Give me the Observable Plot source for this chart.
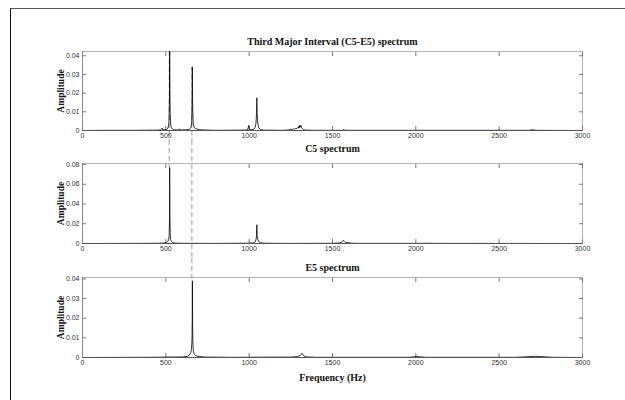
<!DOCTYPE html>
<html><head><meta charset="utf-8">
<script src="https://cdn.jsdelivr.net/npm/d3@7"></script>
<script src="https://cdn.jsdelivr.net/npm/@observablehq/plot@0.6"></script>
<style>
body{margin:0;background:#fff;}
#fig{position:relative;width:625px;height:400px;overflow:hidden;background:#fff;}
#border{position:absolute;left:10px;top:8px;width:700px;height:500px;border-top:1px solid #5a5a5a;border-left:1.5px solid #111;}
.panel{position:absolute;left:0;}
</style></head><body><div id="fig"><div id="border"></div></div>
<script>
// ---------- data ----------
const xTicks = [0, 500, 1000, 1500, 2000, 2500, 3000];
const titles = ["Third Major Interval (C5-E5) spectrum", "C5 spectrum", "E5 spectrum"];
const xLabel = "Frequency (Hz)";
const yLabel = "Amplitude";

const mixFreq = [0,100,300,450,470,478,482,505,512,517,520,522,523,524.5,526,529,533,540,550,575,582,586,610,640,650,655,657,659,661,664,670,680,700,720,800,950,990,998,1003,1025,1035,1041,1044,1046,1048,1052,1058,1068,1085,1200,1240,1250,1258,1265,1272,1280,1286,1291,1295,1299,1302,1305,1308,1311,1315,1320,1328,1340,1400,1560,1568,1575,2000,2680,2700,2720,3000];
const mixAmp  = [0,0.0001,0.0001,0.0002,0.0004,0.0013,0.0003,0.0006,0.0012,0.0028,0.007,0.02,0.046,0.022,0.009,0.0035,0.0015,0.0008,0.0004,0.0003,0.0009,0.0003,0.0003,0.0006,0.0014,0.004,0.011,0.034,0.012,0.004,0.0016,0.0009,0.0005,0.0003,0.0001,0.0002,0.0003,0.0028,0.0003,0.0005,0.0015,0.004,0.009,0.0175,0.009,0.0035,0.0014,0.0006,0.0002,0.0001,0.0003,0.0006,0.0005,0.0009,0.0007,0.0012,0.001,0.0016,0.0013,0.0024,0.0015,0.0029,0.0018,0.0026,0.0014,0.0009,0.0004,0.0002,0.0001,0.0001,0.0005,0.0001,0.0001,0.0001,0.0004,0.0001,0];

const c5Freq = [0,300,470,495,505,512,517,520,522,523,524.5,526,529,534,542,555,600,800,1000,1025,1035,1041,1044,1046,1048,1052,1058,1068,1090,1200,1500,1545,1555,1562,1566,1570,1576,1585,1600,1615,1650,2000,2090,2100,3000];
const c5Amp  = [0,0.0001,0.0003,0.0006,0.0012,0.002,0.004,0.008,0.025,0.077,0.028,0.01,0.004,0.002,0.0009,0.0004,0.0002,0.0001,0.0003,0.0006,0.0015,0.004,0.008,0.019,0.008,0.004,0.0018,0.0008,0.0003,0.0001,0.0002,0.0006,0.0015,0.0025,0.0032,0.0022,0.0012,0.0009,0.0007,0.0003,0.0001,0.0001,0.0003,0.0001,0];

const e5Freq = [0,400,600,630,642,650,654,657,658.5,659.3,660.5,662,665,670,680,700,740,900,1250,1290,1305,1313,1318,1322,1330,1345,1400,1950,1990,2005,2015,2030,2060,2600,2650,2690,2720,2750,2780,2820,3000];
const e5Amp  = [0,0.0001,0.0003,0.0006,0.0013,0.0025,0.0045,0.009,0.02,0.039,0.018,0.008,0.0035,0.0018,0.0009,0.0005,0.0002,0.0001,0.0002,0.0005,0.001,0.0016,0.0022,0.0014,0.0007,0.0003,0.0001,0.0001,0.0003,0.0006,0.0005,0.0003,0.0001,0.0001,0.0003,0.0005,0.0006,0.0005,0.0003,0.0001,0];

const yTicks1 = [0, 0.01, 0.02, 0.03, 0.04];
const yTicks2 = [0, 0.02, 0.04, 0.06, 0.08];
const yTicks3 = [0, 0.01, 0.02, 0.03, 0.04];
const yMax = [0.0423, 0.081, 0.0407];

const noteFreq = [523.25, 659.26];   // C5, E5 fundamentals (dashed guides)
const mixPeak = [0.0423, 0.034];
const c5Peak = 0.077;
const e5Peak = 0.039;

// ---------- drawing ----------
function guides(specs) {
  return (index, scales, values, dimensions) => {
    const g = d3.create("svg:g");
    for (const s of specs) {
      const x = scales.x(s.f);
      const y1 = s.top == null ? 0 : scales.y(s.top);
      const y2 = s.bottom == null ? dimensions.height : scales.y(s.bottom);
      g.append("line").attr("x1", x).attr("x2", x).attr("y1", y1).attr("y2", y2)
        .attr("stroke", "#808080").attr("stroke-width", 0.8).attr("stroke-dasharray", "5,3");
    }
    return g.node();
  };
}

function panel({title, titleDy, freq, amp, ymax, yTicks, top, height, marginTop, marginBottom, guideSpecs, withXLabel}) {
  const data = freq.map((f, i) => ({f, a: amp[i]}));
  const serif = "'Liberation Serif', 'Times New Roman', serif";
  const marks = [
    guides(guideSpecs),
    Plot.frame({stroke: "#b4b4b4"}),
    Plot.axisX({anchor: "top", ticks: xTicks, tickSize: -4, stroke: "#777", tickFormat: () => "", label: null}),
    Plot.axisY({anchor: "right", ticks: yTicks, tickSize: -4, stroke: "#777", tickFormat: () => "", label: null}),
    Plot.axisX({anchor: "bottom", ticks: xTicks, tickSize: -4, tickPadding: 7, stroke: "#777", fill: "#333", tickFormat: d => String(d), label: null}),
    Plot.axisY({anchor: "left", ticks: yTicks, tickSize: -4, tickPadding: 7, stroke: "#777", fill: "#333", tickFormat: d => String(d), label: null}),
    Plot.ruleY([0], {stroke: "#555", strokeWidth: 1}),
    Plot.ruleX([0], {stroke: "#8a8a8a", strokeWidth: 1}),
    Plot.line(data, {x: "f", y: "a", stroke: "#000", strokeWidth: 0.8, clip: true}),
    Plot.text([title], {frameAnchor: "top", lineAnchor: "middle", dy: titleDy, fontFamily: serif, fontWeight: "bold", fontSize: 10, fill: "#111"}),
    Plot.text([yLabel], {frameAnchor: "left", textAnchor: "middle", lineAnchor: "middle", dx: -22, rotate: -90, fontFamily: serif, fontWeight: "bold", fontSize: 9.5, fill: "#111"})
  ];
  if (withXLabel) marks.push(Plot.text([xLabel], {frameAnchor: "bottom", lineAnchor: "middle", dy: 20, fontFamily: serif, fontWeight: "bold", fontSize: 10, fill: "#111"}));
  const chart = Plot.plot({
    width: 625, height,
    marginLeft: 82, marginRight: 43, marginTop, marginBottom,
    style: {background: "transparent", overflow: "visible", fontFamily: "'Liberation Sans', Arial, sans-serif", fontSize: "7px"},
    x: {domain: [0, 3000], axis: null, label: null},
    y: {domain: [0, ymax], axis: null, label: null},
    marks
  });
  chart.classList.add("panel");
  chart.style.top = top + "px";
  document.getElementById("fig").appendChild(chart);
}

panel({title: titles[0], titleDy: -10, freq: mixFreq, amp: mixAmp, ymax: yMax[0], yTicks: yTicks1,
  top: 0, height: 140, marginTop: 51, marginBottom: 10,
  guideSpecs: [{f: noteFreq[0], top: mixPeak[0], bottom: null}, {f: noteFreq[1], top: mixPeak[1], bottom: null}]});
panel({title: titles[1], titleDy: -15, freq: c5Freq, amp: c5Amp, ymax: yMax[1], yTicks: yTicks2,
  top: 140, height: 118, marginTop: 23, marginBottom: 15,
  guideSpecs: [{f: noteFreq[0], top: null, bottom: c5Peak}, {f: noteFreq[1], top: null, bottom: null}]});
panel({title: titles[2], titleDy: -10, freq: e5Freq, amp: e5Amp, ymax: yMax[2], yTicks: yTicks3,
  top: 258, height: 142, marginTop: 19, marginBottom: 43,
  guideSpecs: [{f: noteFreq[1], top: null, bottom: e5Peak}], withXLabel: true});
</script></body></html>
